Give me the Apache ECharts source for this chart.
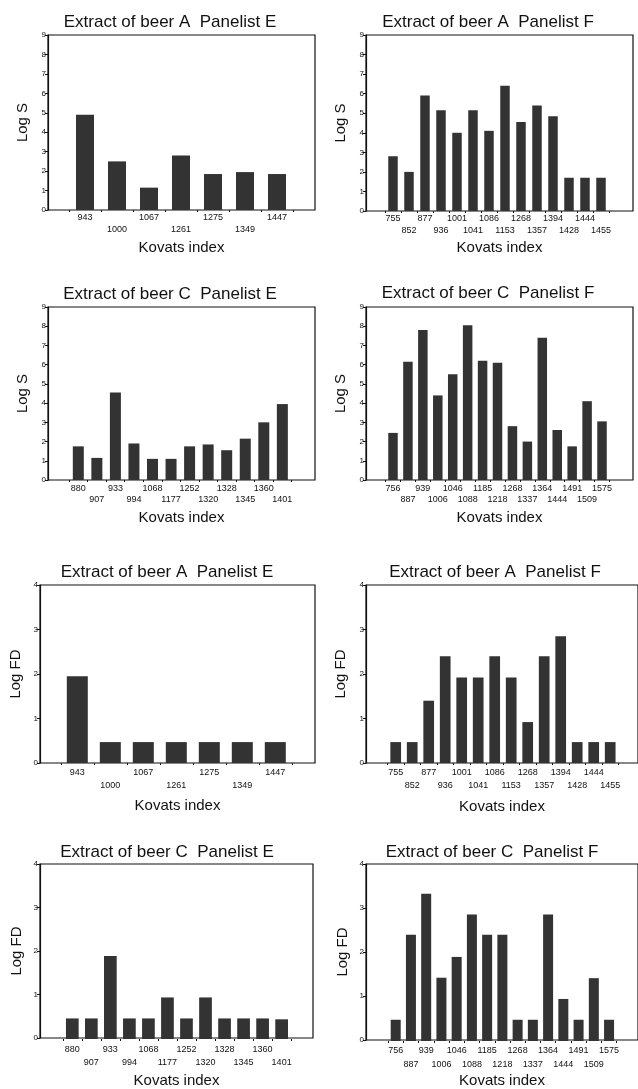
<!DOCTYPE html>
<html>
<head>
<meta charset="utf-8">
<script src="https://cdn.jsdelivr.net/npm/echarts@6/dist/echarts.min.js"></script>
<style>
html,body{margin:0;padding:0;background:#fff;}
#c{width:638px;height:1089px;}
</style>
</head>
<body>
<div id="c"></div>
<script>
// ---- data ----
const kiAE = ['943','1000','1067','1261','1275','1349','1447'];
const kiAF = ['755','852','877','936','1001','1041','1086','1153','1268','1357','1394','1428','1444','1455'];
const kiCE = ['880','907','933','994','1068','1177','1252','1320','1328','1345','1360','1401'];
const kiCF = ['756','887','939','1006','1046','1088','1185','1218','1268','1337','1364','1444','1491','1509','1575'];

const logS_AE = [4.9, 2.5, 1.15, 2.8, 1.85, 1.95, 1.85];
const logS_AF = [2.8, 2.0, 5.9, 5.15, 4.0, 5.15, 4.1, 6.4, 4.55, 5.4, 4.85, 1.7, 1.7, 1.7];
const logS_CE = [1.75, 1.15, 4.55, 1.9, 1.1, 1.1, 1.75, 1.85, 1.55, 2.15, 3.0, 3.95];
const logS_CF = [2.45, 6.15, 7.8, 4.4, 5.5, 8.05, 6.2, 6.1, 2.8, 2.0, 7.4, 2.6, 1.75, 4.1, 3.05];

const logFD_AE = [1.95, 0.47, 0.47, 0.47, 0.47, 0.47, 0.47];
const logFD_AF = [0.47, 0.47, 1.4, 2.4, 1.92, 1.92, 2.4, 1.92, 0.92, 2.4, 2.85, 0.47, 0.47, 0.47];
const logFD_CE = [0.47, 0.47, 1.9, 0.47, 0.47, 0.95, 0.47, 0.95, 0.47, 0.47, 0.47, 0.45];
const logFD_CF = [0.48, 2.4, 3.33, 1.43, 1.9, 2.86, 2.4, 2.4, 0.48, 0.48, 2.86, 0.95, 0.48, 1.42, 0.48];

const titles = ['Extract of beer A  Panelist E','Extract of beer A  Panelist F',
                'Extract of beer C  Panelist E','Extract of beer C  Panelist F',
                'Extract of beer A  Panelist E','Extract of beer A  Panelist F',
                'Extract of beer C  Panelist E','Extract of beer C  Panelist F'];
const yNames = ['Log S','Log S','Log S','Log S','Log FD','Log FD','Log FD','Log FD'];
const xName = 'Kovats index';
const yMaxS = 9, yMaxFD = 4;

// ---- layout (positions only) ----
const panels = [
  {cats:kiAE, vals:logS_AE,  ymax:yMaxS,  l:48,  r:315, t:35,  b:210, first:85,    step:32,    barW:18,  tx:170, ty:22,  nx:22,  ky:248,  m:2, lh:12},
  {cats:kiAF, vals:logS_AF,  ymax:yMaxS,  l:366, r:633, t:35,  b:211, first:393,   step:16,    barW:9.5, tx:488, ty:22,  nx:340, ky:248,  m:2, lh:12},
  {cats:kiCE, vals:logS_CE,  ymax:yMaxS,  l:48,  r:315, t:307, b:480, first:78.3,  step:18.55, barW:11,  tx:170, ty:294, nx:22,  ky:518,  m:3, lh:11},
  {cats:kiCF, vals:logS_CF,  ymax:yMaxS,  l:366, r:633, t:307, b:480, first:393,   step:14.93, barW:9.5, tx:488, ty:293, nx:340, ky:518,  m:3, lh:11},
  {cats:kiAE, vals:logFD_AE, ymax:yMaxFD, l:40,  r:315, t:585, b:763, first:77.3,  step:33,    barW:21,  tx:167, ty:572, nx:15,  ky:806,  m:3.5, lh:13},
  {cats:kiAF, vals:logFD_AF, ymax:yMaxFD, l:366, r:638, t:585, b:763, first:395.7, step:16.5,  barW:10.7,tx:495, ty:572, nx:340, ky:807,  m:3.5, lh:13},
  {cats:kiCE, vals:logFD_CE, ymax:yMaxFD, l:40,  r:313, t:864, b:1039,first:72.3,  step:19.03, barW:12.7,tx:167, ty:852, nx:16,  ky:1082, m:4.5, lh:13},
  {cats:kiCF, vals:logFD_CF, ymax:yMaxFD, l:366, r:638, t:864, b:1041,first:395.7, step:15.24, barW:10,  tx:492, ty:852, nx:342, ky:1082, m:3, lh:14}
];

const FONT = '"Liberation Sans", Arial, Helvetica, sans-serif';
const INK = '#111';

const option = {
  backgroundColor:'#fff',
  animation:false,
  textStyle:{fontFamily:FONT, color:INK},
  title:[], grid:[], xAxis:[], yAxis:[], series:[]
};

panels.forEach((p, i) => {
  const gFrame = 2*i, gBars = 2*i+1;
  const n = p.cats.length;
  option.title.push({
    text: titles[i], left: p.tx, top: p.ty - 8, textAlign:'center', padding:0,
    textStyle:{fontSize:17, fontWeight:'normal', color:INK, fontFamily:FONT}
  });
  option.grid.push({
    left:p.l, top:p.t, width:p.r - p.l, height:p.b - p.t,
    show:true, borderColor:INK, borderWidth:1.2, backgroundColor:'transparent'
  });
  option.grid.push({
    left:p.first - p.step/2, top:p.t, width:n*p.step, height:p.b - p.t
  });
  // frame axes
  option.xAxis.push({
    type:'value', gridIndex:gFrame, min:0, max:1,
    axisLine:{show:false}, axisTick:{show:false}, axisLabel:{show:false}, splitLine:{show:false},
    name:xName, nameLocation:'middle', nameGap:p.ky - p.b - 8,
    nameTextStyle:{fontSize:15, color:INK, fontFamily:FONT}
  });
  option.yAxis.push({
    type:'value', gridIndex:gFrame, min:0, max:p.ymax, interval:1,
    axisLine:{show:true, lineStyle:{color:INK, width:1.2}},
    axisTick:{show:true, length:3, lineStyle:{color:INK}},
    axisLabel:{fontSize:8, margin:2, color:INK, fontFamily:FONT},
    splitLine:{show:false},
    name:yNames[i], nameLocation:'middle', nameRotate:90, nameGap:p.l - p.nx - 8,
    nameTextStyle:{fontSize:15, color:INK, fontFamily:FONT}
  });
  // bar axes
  option.xAxis.push({
    type:'category', gridIndex:gBars, data:p.cats, boundaryGap:true,
    axisLine:{show:false},
    axisTick:{show:true, length:2, lineStyle:{color:INK}},
    axisLabel:{interval:0, fontSize:9, margin:p.m, lineHeight:p.lh, color:INK, fontFamily:FONT,
      formatter:(v, idx) => (idx % 2 ? '\n' + v : v)},
    splitLine:{show:false}
  });
  option.yAxis.push({
    type:'value', gridIndex:gBars, min:0, max:p.ymax, show:false, splitLine:{show:false}
  });
  option.series.push({
    type:'bar', xAxisIndex:gBars, yAxisIndex:gBars, data:p.vals,
    barWidth:p.barW, itemStyle:{color:'#333'}, silent:true
  });
});

const chart = echarts.init(document.getElementById('c'), null, {renderer:'canvas'});
chart.setOption(option);
</script>
</body>
</html>
